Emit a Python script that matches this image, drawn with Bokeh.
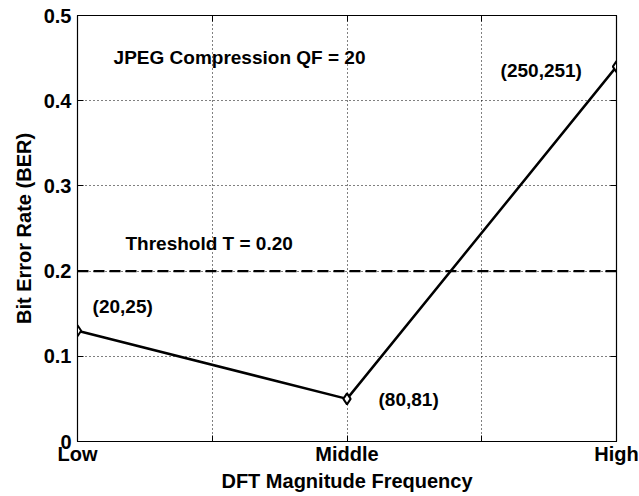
from bokeh.plotting import figure
from bokeh.models import Span, LinearAxis, FixedTicker, Range1d, ColumnDataSource
from bokeh.core.properties import value
from bokeh.embed import file_html
from bokeh.resources import INLINE

# data
categories = ["Low", "Middle", "High"]
cat_pos = [0, 1, 2]
ber = [0.13, 0.05, 0.44]
threshold = 0.20
y_ticks = [0, 0.1, 0.2, 0.3, 0.4, 0.5]
x_ticks = [0, 0.5, 1, 1.5, 2]

ann_text = ["JPEG Compression QF = 20", "Threshold T = 0.20", "(20,25)", "(80,81)", "(250,251)"]
ann_x = [0.134, 0.178, 0.056, 1.117, 1.570]
ann_y = [0.451, 0.232, 0.158, 0.049, 0.435]

FONT = "Liberation Sans"

p = figure(width=639, height=496, output_backend="svg", toolbar_location=None,
           x_range=Range1d(0, 2), y_range=Range1d(0, 0.5),
           min_border_left=77, min_border_right=23, min_border_top=15, min_border_bottom=55)
p.background_fill_color = "white"
p.border_fill_color = "white"
p.outline_line_color = "black"
p.outline_line_width = 1.2

# grid
for g in (p.xgrid, p.ygrid):
    g.grid_line_color = "black"
    g.grid_line_dash = "1 3"
    g.grid_line_width = 1
p.xgrid.ticker = FixedTicker(ticks=[0.5, 1, 1.5])
p.ygrid.ticker = FixedTicker(ticks=[0.1, 0.2, 0.3, 0.4])

# axes
xa = p.xaxis[0]
xa.ticker = FixedTicker(ticks=x_ticks)
xa.major_label_overrides = {0: "Low", 0.5: "", 1: "Middle", 1.5: "", 2: "High"}
ya = p.yaxis[0]
ya.ticker = FixedTicker(ticks=y_ticks)
ya.major_label_overrides = {0: "0", 0.1: "0.1", 0.2: "0.2", 0.3: "0.3", 0.4: "0.4", 0.5: "0.5"}
for ax in (xa, ya):
    ax.major_tick_in = 6
    ax.major_tick_out = 0
    ax.minor_tick_line_color = None
    ax.axis_line_color = "black"
    ax.major_tick_line_color = "black"
    ax.major_label_text_font = FONT
    ax.major_label_text_font_style = "bold"
    ax.major_label_text_font_size = "20px"
    ax.major_label_text_color = "black"
    ax.axis_label_text_font = FONT
    ax.axis_label_text_font_style = "bold"
    ax.axis_label_text_font_size = "20px"
    ax.axis_label_text_color = "black"
xa.axis_label = "DFT Magnitude Frequency"
ya.axis_label = "Bit Error Rate (BER)"
xa.major_label_standoff = 1
ya.major_label_standoff = 6
xa.axis_label_standoff = 2
ya.axis_label_standoff = 6

# box ticks on top/right
ra = LinearAxis(ticker=FixedTicker(ticks=y_ticks), major_label_text_font_size="0px",
                major_tick_in=6, major_tick_out=0, minor_tick_line_color=None,
                axis_line_color="black", major_label_text_color=None)
ta = LinearAxis(ticker=FixedTicker(ticks=x_ticks), major_label_text_font_size="0px",
                major_tick_in=6, major_tick_out=0, minor_tick_line_color=None,
                axis_line_color="black", major_label_text_color=None)
p.add_layout(ra, "right")
p.add_layout(ta, "above")
p.min_border_right = 23
p.min_border_top = 15

# threshold
p.add_layout(Span(location=threshold, dimension="width", line_color="black",
                  line_width=2.2, line_dash="11 5"))

src = ColumnDataSource(dict(x=cat_pos, y=ber))
p.line("x", "y", source=src, line_color="black", line_width=2.5)
p.scatter("x", "y", source=src, marker="diamond", size=11, fill_color="white",
          line_color="black", line_width=2)

tsrc = ColumnDataSource(dict(x=ann_x, y=ann_y, t=ann_text))
p.text("x", "y", text="t", source=tsrc, text_font=value(FONT), text_font_style="bold",
       text_font_size="19px", text_baseline="middle", text_align="left", text_color="black")

open("out.html", "w").write(file_html(p, INLINE))
